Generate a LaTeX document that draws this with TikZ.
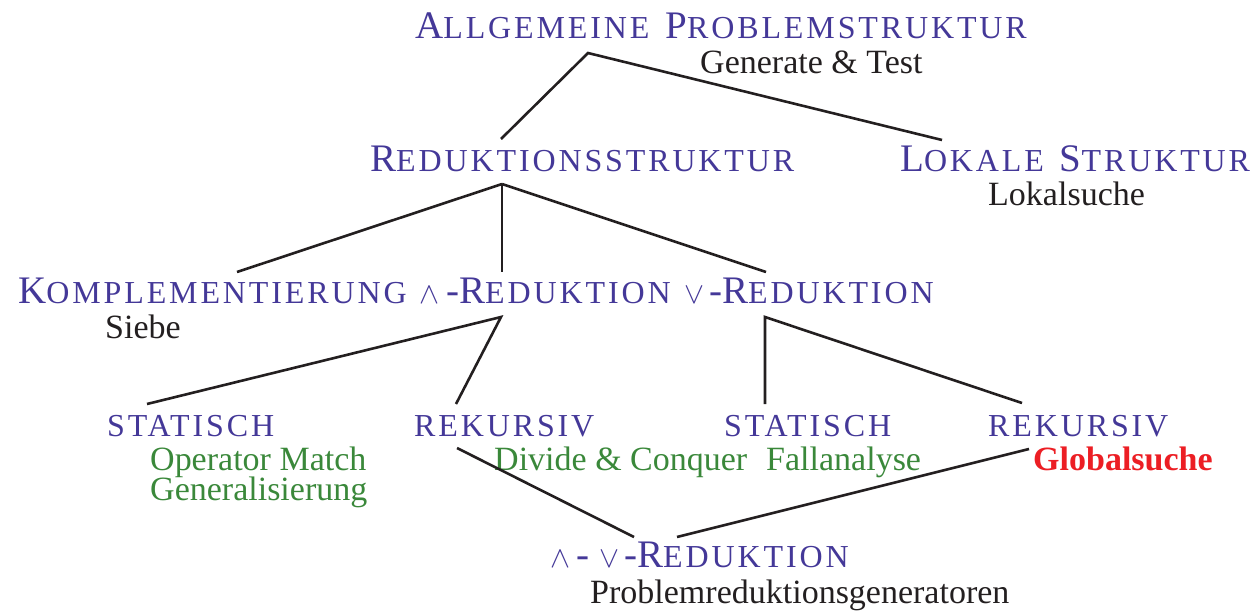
\documentclass[tikz,border=0pt]{standalone}
\usepackage{graphicx}
\usepackage{fontspec}
\setmainfont{Liberation Serif}
\definecolor{tblue}{RGB}{68,56,152}
\definecolor{tgreen}{RGB}{58,136,58}
\definecolor{tred}{RGB}{236,30,36}
\definecolor{tblack}{RGB}{35,31,32}
\newcommand\bigsz{\fontsize{39}{44}\selectfont}
\newcommand\smsz{\fontsize{32}{36}\selectfont\addfontfeature{LetterSpace=9}}
\newcommand\SC[2]{{\bigsz #1}{\smsz #2}}
\newcommand\wsp{\hspace{16pt}}
\newcommand\myand{\scalebox{3}{\fontsize{10}{12}\selectfont$\wedge$}}
\newcommand\myor{\scalebox{3}{\fontsize{10}{12}\selectfont$\vee$}}
\newcommand\hy{{\bigsz -}}
\tikzset{
  head/.style={anchor=base west,inner sep=0pt,text=tblue,font=\bigsz},
  sub/.style={anchor=base west,inner sep=0pt,text=tblack,font=\fontsize{34}{38}\selectfont},
  gsub/.style={anchor=base west,inner sep=0pt,text=tgreen,font=\fontsize{34}{38}\selectfont},
  rsub/.style={anchor=base west,inner sep=0pt,text=tred,font=\fontsize{34}{38}\selectfont\bfseries},
  edge/.style={draw=tblack,line width=2.6pt}
}
\begin{document}
\begin{tikzpicture}[x=1pt,y=-1pt]
\useasboundingbox (0,0) rectangle (1253,611);
% headings
\node[head] (top) at (415,38) {\SC{A}{LLGEMEINE}\wsp\SC{P}{ROBLEMSTRUKTUR}};
\node[sub] (gt) at (700,73) {Generate \& Test};
\node[head] (red) at (370,171) {\SC{R}{EDUKTIONSSTRUKTUR}};
\node[head] (lok) at (900,171) {\SC{L}{OKALE}\wsp\SC{S}{TRUKTUR}};
\node[sub] (loks) at (988,205) {Lokalsuche};
\node[head] (komp) at (18,303) {\SC{K}{OMPLEMENTIERUNG}};
\node[head] (andr) at (419,303) {\myand\kern7pt\hy\SC{R}{EDUKTION}};
\node[head] (orr) at (684,303) {\myor\kern5pt\hy\SC{R}{EDUKTION}};
\node[sub] (siebe) at (105,338) {Siebe};
\node[head] (stat1) at (107,436) {\smsz STATISCH};
\node[head] (rek1) at (414,436) {\smsz REKURSIV};
\node[head] (stat2) at (724,436) {\smsz STATISCH};
\node[head] (rek2) at (988,436) {\smsz REKURSIV};
\node[gsub,text depth=1pt] (om) at (150,470) {Operator Match};
\node[gsub,text height=20pt] (gen) at (150,500) {Generalisierung};
\node[gsub] (dc) at (494,470) {Divide \& Conquer};
\node[gsub] (fa) at (766,470) {Fallanalyse};
\node[rsub] (glob) at (1033,470) {Globalsuche};
\node[head] (andor) at (550,567) {\myand\kern6pt\hy\kern10.5pt\myor\kern4.5pt\hy\SC{R}{EDUKTION}};
\node[sub] (prg) at (590,603) {Problemreduktionsgeneratoren};
% connectors
\draw[edge] ([shift={(131,-32)}]red.base west) -- ([shift={(173,15)}]top.base west) -- ([shift={(42,-31)}]lok.base west);
\draw[edge] ([shift={(132,13)}]red.base west) -- ([shift={(219,-31)}]komp.base west);
\draw[edge] ([shift={(132,13)}]red.base west) -- ([shift={(83,-31)}]andr.base west);
\draw[edge] ([shift={(132,13)}]red.base west) -- ([shift={(82,-31)}]orr.base west);
\draw[edge] ([shift={(40,-32)}]stat1.base west) -- ([shift={(82,14)}]andr.base west) -- ([shift={(42,-32)}]rek1.base west);
\draw[edge] ([shift={(41,-32)}]stat2.base west) -- ([shift={(81,14)}]orr.base west) -- ([shift={(34,-33)}]rek2.base west);
\draw[edge] ([shift={(43,12)}]rek1.base west) -- ([shift={(84,-30)}]andor.base west);
\draw[edge] ([shift={(41,13)}]rek2.base west) -- ([shift={(127,-30)}]andor.base west);
\end{tikzpicture}
\end{document}
